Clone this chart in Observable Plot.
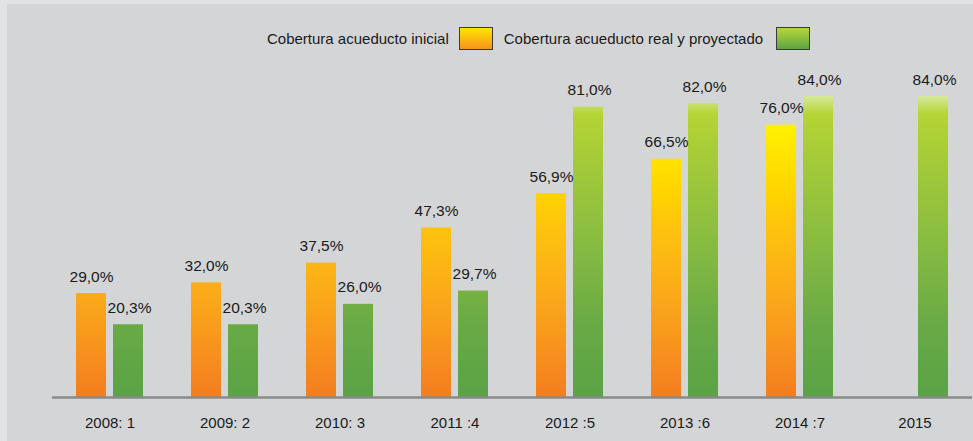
<!DOCTYPE html>
<html>
<head>
<meta charset="utf-8">
<script src="https://cdn.jsdelivr.net/npm/d3@7"></script>
<script src="https://cdn.jsdelivr.net/npm/@observablehq/plot@0.6"></script>
<style>
  html, body { margin: 0; padding: 0; background: #d4d5d7; }
  #wrap {
    width: 966px; height: 437px;
    border-left: 7px solid #e2e3e5; border-top: 4px solid #e2e3e5;
    background: #d4d5d7; overflow: hidden;
    font-family: "Liberation Sans", Arial, sans-serif; color: #1a1a1a;
  }
  #legend {
    display: flex; align-items: center; height: 23px; margin-top: 23px;
    padding-left: 260px; font-size: 15px;
  }
  #legend .sw { width: 32px; height: 21px; border: 1px solid #3a3a3a; }
  #chart svg { display: block; }
</style>
</head>
<body>
<div id="wrap">
  <div id="legend"></div>
  <div id="chart"></div>
</div>
<script>
// ---- data ----
const years = ["2008: 1", "2009: 2", "2010: 3", "2011 :4", "2012 :5", "2013 :6", "2014 :7", "2015"];
const inicial = [29.0, 32.0, 37.5, 47.3, 56.9, 66.5, 76.0, null];
const realProyectado = [20.3, 20.3, 26.0, 29.7, 81.0, 82.0, 84.0, 84.0];
const seriesNames = ["Cobertura acueducto inicial", "Cobertura acueducto real y proyectado"];

const fmt = v => v.toFixed(1).replace(".", ",") + "%";

const rowsIni = years.map((y, i) => ({year: y, value: inicial[i]})).filter(d => d.value != null);
const rowsReal = years.map((y, i) => ({year: y, value: realProyectado[i]})).filter(d => d.value != null);

// ---- legend ----
const legend = document.getElementById("legend");
legend.innerHTML = `
  <span>${seriesNames[0]}</span>
  <span class="sw" style="margin-left:10px;background:linear-gradient(#ffe600,#f7921d)"></span>
  <span style="margin-left:11px">${seriesNames[1]}</span>
  <span class="sw" style="margin-left:13px;background:linear-gradient(#b8d636,#5da545)"></span>`;

// ---- chart ----
const H = 391, W = 966, mTop = 46, mBottom = 44;
const plot = Plot.plot({
  width: W, height: H,
  marginLeft: 45, marginRight: 1, marginTop: mTop, marginBottom: mBottom,
  style: {background: "transparent", fontFamily: "'Liberation Sans', Arial, sans-serif", fontSize: "15px", color: "#1a1a1a"},
  x: {domain: years, padding: 0, axis: null},
  y: {domain: [0, 84], axis: null},
  marks: [
    Plot.barY(rowsIni, {x: "year", y: "value", fill: "url(#gOrange)", insetLeft: 24, insetRight: 61}),
    Plot.barY(rowsReal, {x: "year", y: "value", fill: "url(#gGreen)", insetLeft: 61, insetRight: 24}),
    Plot.ruleY([0], {stroke: "#8a8a8a", strokeWidth: 2.5}),
    Plot.axisX({tickSize: 0, tickPadding: 20, fontSize: 15, fill: "#1a1a1a", label: null}),
    Plot.text(rowsIni, {x: "year", y: "value", text: d => fmt(d.value), dx: -18.5, dy: -12, lineAnchor: "bottom", fontSize: 15.5, fill: "#1a1a1a"}),
    Plot.text(rowsReal, {x: "year", y: "value", text: d => fmt(d.value), dx: 19.5, dy: -12, lineAnchor: "bottom", fontSize: 15.5, fill: "#1a1a1a"})
  ]
});

// gradients spanning the plot height (baseline -> top)
const y0 = H - mBottom, y1 = mTop;
const defs = d3.select(plot).insert("defs", ":first-child");
function grad(id, stops) {
  const g = defs.append("linearGradient").attr("id", id)
    .attr("gradientUnits", "userSpaceOnUse")
    .attr("x1", 0).attr("x2", 0).attr("y1", y0).attr("y2", y1);
  stops.forEach(([o, c]) => g.append("stop").attr("offset", o).attr("stop-color", c));
}
grad("gOrange", [[0, "#f47d20"], [0.35, "#fbab19"], [0.56, "#fec30e"], [0.68, "#ffd400"], [0.9, "#fff000"], [1, "#fff200"]]);
grad("gGreen", [[0, "#5aa346"], [0.24, "#69aa45"], [0.5, "#86bb41"], [0.8, "#a6cb38"], [0.94, "#b5d435"], [1, "#d6e99a"]]);

document.getElementById("chart").appendChild(plot);
</script>
</body>
</html>
